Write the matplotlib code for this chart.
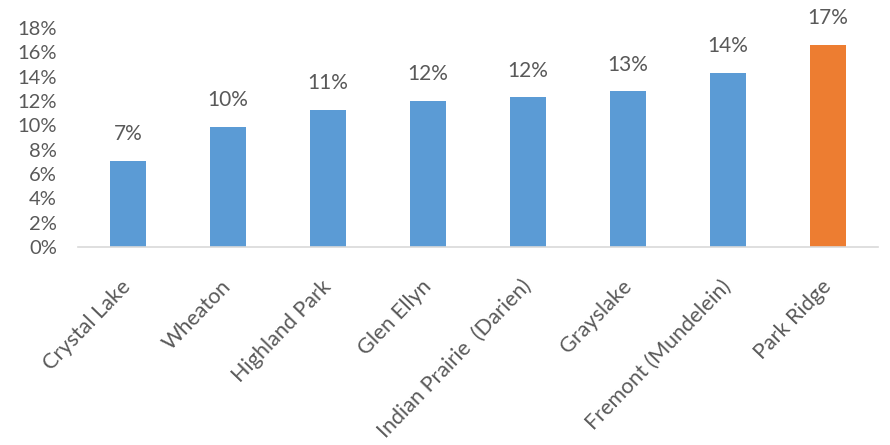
import numpy as np
import matplotlib.pyplot as plt

districts = ["Crystal Lake", "Wheaton", "Highland Park", "Glen Ellyn",
             "Indian Prairie  (Darien)", "Grayslake", "Fremont (Mundelein)", "Park Ridge"]
values = [0.071, 0.099, 0.113, 0.120, 0.123, 0.128, 0.143, 0.166]
labels = ["7%", "10%", "11%", "12%", "12%", "13%", "14%", "17%"]

blue = "#5B9BD5"
orange = "#ED7D31"
grey = "#595959"
colors = [blue] * 7 + [orange]

plt.rcParams['font.family'] = ['Lato', 'DejaVu Sans']

fig = plt.figure(figsize=(8.9, 4.45), dpi=100)
ax = fig.add_axes([0.0876, 0.445, 0.899, 0.492])

x = np.arange(len(districts))
bars = ax.bar(x, values, width=0.36, color=colors)

for b, lab in zip(bars, labels):
    ax.annotate(lab, (b.get_x() + b.get_width() / 2, b.get_height()),
                xytext=(0, 12), textcoords="offset points",
                ha="center", va="bottom", fontsize=15, color=grey)

ax.set_xlim(-0.5, len(districts) - 0.5)
ax.set_ylim(0, 0.18)
ax.set_yticks(np.arange(0, 0.181, 0.02))
ax.set_yticklabels([f"{int(round(v * 100))}%" for v in np.arange(0, 0.181, 0.02)])
ax.set_xticks(x)
ax.set_xticklabels(districts, rotation=46, ha="right", va="center",
                   rotation_mode="anchor", fontsize=15.5)

ax.tick_params(axis="y", length=0, labelsize=14.5, labelcolor=grey, pad=15)
ax.tick_params(axis="x", length=0, labelcolor=grey, pad=26)
for s in ["top", "right", "left"]:
    ax.spines[s].set_visible(False)
ax.spines["bottom"].set_color("#D9D9D9")
ax.spines["bottom"].set_linewidth(1.2)

fig.savefig("out.png", dpi=100)
